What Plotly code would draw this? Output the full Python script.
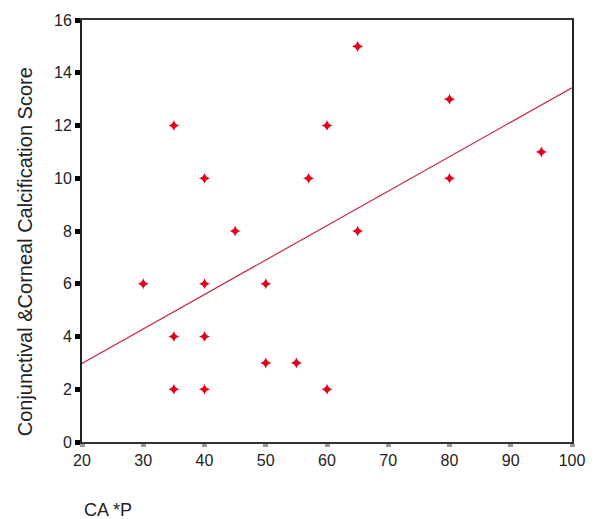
import plotly.graph_objects as go

ca_p = [30, 35, 35, 35, 40, 40, 40, 40, 45, 50, 50, 55, 57, 60, 60, 65, 65, 80, 80, 95]
score = [6, 12, 4, 2, 10, 6, 4, 2, 8, 6, 3, 3, 10, 12, 2, 15, 8, 13, 10, 11]
fit_x = [20, 100]
fit_y = [2.98, 13.43]
x_ticks = [20, 30, 40, 50, 60, 70, 80, 90, 100]
y_ticks = [0, 2, 4, 6, 8, 10, 12, 14, 16]

font = "Liberation Sans, Arial, sans-serif"

fig = go.Figure()
fig.add_trace(go.Scatter(x=fit_x, y=fit_y, mode="lines",
                         line=dict(color="#c42a45", width=1.2), hoverinfo="skip"))
fig.add_trace(go.Scatter(x=ca_p, y=score, mode="markers",
                         marker=dict(symbol="star-diamond", size=8, color="#e3001b",
                                     line=dict(width=0))))

fig.update_layout(
    width=597, height=519,
    margin=dict(l=82, r=24, t=18, b=77),
    paper_bgcolor="white", plot_bgcolor="white",
    showlegend=False,
    font=dict(family=font, size=16, color="#222"),
    xaxis=dict(range=[20, 100], tickvals=x_ticks, showgrid=False, zeroline=False,
               showline=True, linecolor="#333", linewidth=2, mirror=True,
               ticks="outside", ticklen=3, tickwidth=5, tickcolor="#999",
               tickfont=dict(size=16, family=font, color="#222")),
    yaxis=dict(range=[0, 16], tickvals=y_ticks, showgrid=False, zeroline=False,
               showline=True, linecolor="#222", linewidth=2, mirror=True,
               ticks="outside", ticklen=5, tickwidth=5, tickcolor="#000",
               tickfont=dict(size=16, family=font, color="#222")),
    annotations=[
        dict(text="CA *P", xref="paper", yref="paper", x=0.0, y=-0.19,
             xanchor="left", yanchor="bottom", showarrow=False,
             font=dict(size=18, family=font, color="#222")),
        dict(text="Conjunctival &Corneal Calcification Score", xref="paper", yref="paper",
             x=-0.116, y=0.45, xanchor="center", yanchor="middle", textangle=-90,
             showarrow=False, font=dict(size=20, family=font, color="#222")),
    ],
)

fig.write_html("out.html", config={"displayModeBar": False},
               post_script="document.body.style.margin='0';")
